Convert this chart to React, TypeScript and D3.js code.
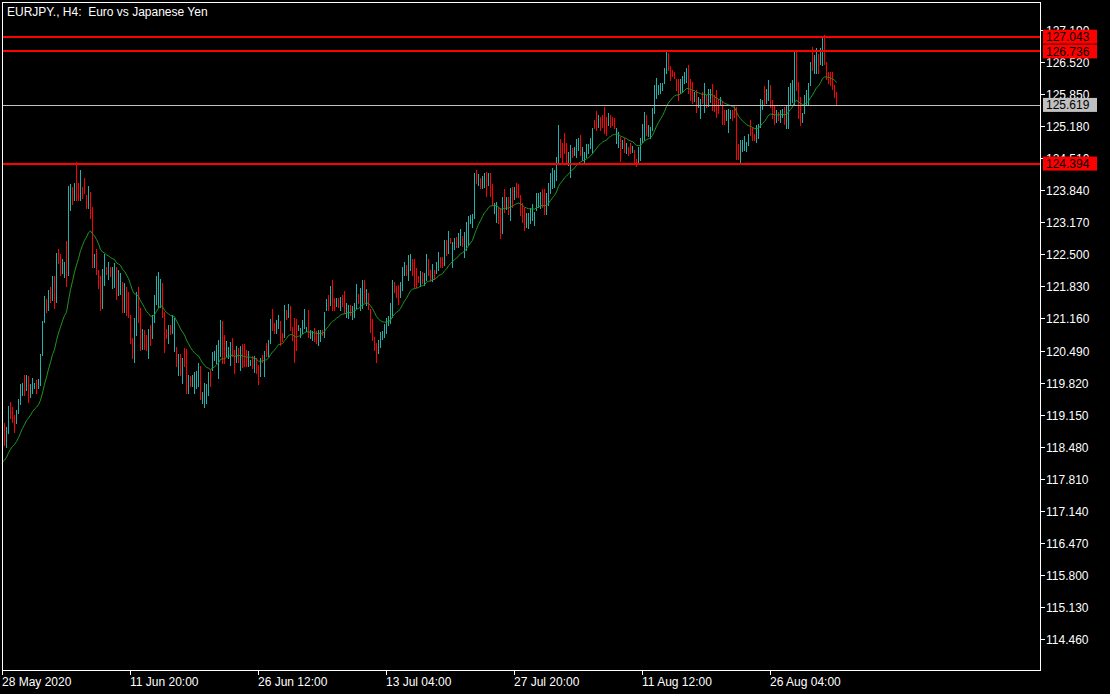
import React from "react";
import * as d3 from "d3";

// EURJPY H4 candles (index 0 = 28 May 2020 00:00)
const highs = [
  118.80, 118.98, 118.90, 119.34, 119.41, 119.32, 119.14, 119.24, 119.48, 119.80,
  119.82, 119.98, 119.98, 119.96, 119.80, 119.91, 119.82, 119.87, 119.89, 120.41,
  121.10, 121.63, 121.56, 121.75, 121.82, 122.04, 122.05, 122.52, 122.62, 122.50,
  122.41, 122.33, 122.77, 123.93, 123.96, 123.91, 123.98, 124.42, 123.98, 124.26,
  123.91, 124.10, 123.73, 123.92, 123.80, 123.49, 122.50, 122.60, 122.17, 122.05,
  122.20, 122.50, 122.24, 122.34, 122.24, 122.24, 122.31, 122.24, 122.18, 122.10,
  121.93, 121.90, 121.82, 121.72, 121.23, 120.76, 121.16, 121.72, 121.82, 121.37,
  120.95, 120.92, 120.81, 120.95, 121.02, 121.23, 121.65, 122.05, 122.13, 121.98,
  121.89, 121.30, 120.95, 121.03, 121.03, 121.24, 121.17, 120.56, 120.42, 120.42,
  120.34, 120.55, 120.53, 119.97, 119.95, 119.97, 120.05, 120.07, 120.23, 120.17,
  119.63, 119.81, 119.79, 120.05, 120.09, 120.45, 120.47, 120.61, 120.71, 121.12,
  121.10, 120.82, 120.68, 120.57, 120.66, 120.75, 120.50, 120.59, 120.54, 120.59,
  120.63, 120.63, 120.50, 120.49, 120.30, 120.37, 120.37, 120.33, 120.19, 120.33,
  120.40, 120.47, 120.64, 120.71, 121.14, 121.35, 121.06, 121.13, 121.24, 121.10,
  120.85, 121.44, 121.34, 121.46, 121.41, 120.99, 121.17, 121.15, 121.03, 120.96,
  121.13, 121.35, 120.98, 121.34, 120.92, 120.89, 120.96, 120.89, 120.92, 120.92,
  120.92, 121.30, 121.56, 121.65, 121.83, 121.97, 121.58, 121.58, 121.58, 121.61,
  121.65, 121.73, 121.48, 121.44, 121.44, 121.41, 121.48, 121.88, 121.68, 121.79,
  121.96, 121.96, 121.77, 121.70, 121.36, 121.14, 120.78, 120.64, 120.71, 120.88,
  120.90, 121.04, 121.16, 121.21, 121.48, 121.96, 121.93, 121.84, 121.86, 121.93,
  122.24, 122.33, 122.28, 122.48, 122.50, 122.40, 122.40, 122.21, 122.05, 122.15,
  122.14, 122.10, 122.50, 122.41, 122.17, 122.30, 122.17, 122.33, 122.55, 122.45,
  122.45, 122.80, 122.80, 122.99, 122.85, 122.76, 122.85, 122.87, 122.95, 123.03,
  122.88, 122.97, 123.18, 123.30, 123.33, 123.35, 124.19, 124.26, 124.18, 124.09,
  124.13, 124.20, 124.22, 124.19, 124.20, 123.97, 123.58, 123.60, 123.49, 123.46,
  123.69, 123.86, 123.69, 123.70, 123.88, 123.91, 123.91, 123.98, 123.97, 123.74,
  123.58, 123.46, 123.36, 123.36, 123.46, 123.56, 123.39, 123.77, 123.79, 123.81,
  123.86, 123.86, 123.77, 123.98, 124.19, 124.31, 124.26, 124.54, 125.20, 124.91,
  124.82, 125.04, 124.82, 124.64, 124.78, 124.71, 124.75, 124.90, 124.92, 124.99,
  124.75, 124.63, 124.80, 124.80, 124.92, 125.13, 125.30, 125.50, 125.41, 125.37,
  125.41, 125.57, 125.37, 125.44, 125.41, 125.37, 125.34, 125.13, 125.06, 124.94,
  124.89, 124.92, 124.82, 124.73, 124.82, 124.76, 124.68, 124.50, 124.75, 124.92,
  125.23, 125.48, 125.41, 125.20, 125.15, 125.55, 126.03, 126.19, 126.03, 126.07,
  126.08, 126.38, 126.74, 126.70, 126.43, 126.35, 126.31, 126.15, 126.15, 126.15,
  126.22, 126.31, 126.40, 126.45, 126.17, 126.10, 125.89, 125.93, 125.79, 125.75,
  125.89, 126.07, 125.82, 125.96, 125.96, 126.05, 125.82, 125.94, 125.75, 125.79,
  125.70, 125.51, 125.51, 125.54, 125.51, 125.52, 125.61, 125.58, 124.81, 124.88,
  124.88, 124.97, 124.85, 125.02, 125.30, 125.16, 125.02, 125.20, 125.23, 125.75,
  125.72, 126.01, 125.96, 126.14, 126.03, 125.72, 125.59, 125.51, 125.47, 125.51,
  125.54, 125.58, 125.61, 126.00, 126.08, 126.14, 126.76, 126.76, 126.10, 125.79,
  125.44, 125.82, 125.93, 126.07, 126.52, 126.83, 126.66, 126.80, 126.69, 126.80,
  127.01, 127.07, 126.52, 126.31, 126.31, 126.31, 126.03, 125.89,
];

const lows = [
  118.40, 118.52, 118.48, 118.76, 119.09, 119.00, 118.79, 118.97, 119.18, 119.38,
  119.56, 119.56, 119.66, 119.42, 119.52, 119.61, 119.70, 119.61, 119.70, 119.77,
  120.39, 121.09, 121.30, 121.33, 121.51, 121.54, 121.37, 121.51, 122.31, 122.06,
  122.10, 122.03, 121.84, 122.06, 123.42, 123.56, 123.63, 123.63, 123.63, 123.63,
  123.67, 123.77, 123.46, 123.46, 123.25, 122.24, 122.24, 122.09, 121.79, 121.33,
  121.37, 121.86, 122.08, 121.99, 122.05, 121.79, 121.82, 121.56, 121.66, 121.68,
  121.30, 121.30, 121.23, 121.19, 120.64, 120.33, 120.26, 120.81, 121.09, 120.50,
  120.53, 120.53, 120.50, 120.33, 120.60, 120.76, 121.09, 121.47, 121.40, 121.40,
  121.19, 120.46, 120.76, 120.64, 120.84, 120.85, 120.48, 120.16, 119.98, 119.98,
  119.82, 120.16, 119.60, 119.60, 119.74, 119.75, 119.60, 119.70, 119.74, 119.48,
  119.39, 119.32, 119.39, 119.56, 119.75, 120.09, 120.30, 120.23, 119.91, 120.37,
  120.24, 120.23, 120.37, 120.33, 120.19, 120.37, 120.03, 120.26, 120.26, 120.09,
  120.14, 120.16, 120.16, 120.16, 120.19, 120.12, 120.05, 120.02, 119.79, 119.95,
  120.26, 119.96, 120.37, 120.37, 120.64, 120.92, 120.85, 120.85, 120.96, 120.61,
  120.68, 120.78, 121.14, 121.20, 120.92, 120.71, 120.26, 120.50, 120.92, 120.77,
  120.85, 120.96, 120.89, 120.78, 120.75, 120.71, 120.68, 120.64, 120.61, 120.68,
  120.82, 120.78, 121.33, 121.34, 121.44, 121.34, 121.33, 121.41, 121.40, 121.34,
  121.41, 121.27, 121.18, 121.16, 121.23, 121.14, 121.20, 121.37, 121.48, 121.34,
  121.37, 121.51, 121.44, 121.35, 120.88, 120.71, 120.50, 120.26, 120.43, 120.57,
  120.74, 120.78, 120.85, 121.02, 121.06, 121.20, 121.72, 121.61, 121.46, 121.61,
  121.75, 122.07, 122.07, 121.96, 122.17, 122.07, 121.82, 121.82, 121.93, 121.84,
  121.89, 121.86, 121.96, 122.07, 121.96, 121.94, 121.98, 122.10, 122.17, 122.24,
  122.24, 122.28, 122.48, 122.52, 122.73, 122.24, 122.60, 122.66, 122.66, 122.69,
  122.67, 122.45, 122.59, 122.69, 123.15, 123.08, 123.26, 123.98, 123.95, 123.88,
  123.89, 123.91, 123.72, 123.95, 123.72, 123.53, 123.37, 123.18, 123.15, 122.83,
  122.95, 123.39, 123.44, 123.35, 123.22, 123.49, 123.65, 123.69, 123.70, 123.32,
  123.18, 123.01, 123.08, 123.04, 123.15, 123.22, 123.11, 123.42, 123.49, 123.46,
  123.49, 123.35, 123.35, 123.53, 123.77, 123.88, 123.91, 124.05, 124.43, 124.54,
  124.43, 124.61, 124.40, 124.36, 124.12, 124.54, 124.57, 124.54, 124.68, 124.57,
  124.47, 124.41, 124.54, 124.61, 124.71, 124.61, 125.13, 125.10, 125.16, 125.10,
  125.16, 125.03, 124.99, 125.20, 125.16, 125.20, 125.13, 124.82, 124.75, 124.45,
  124.71, 124.64, 124.61, 124.57, 124.61, 124.64, 124.40, 124.34, 124.43, 124.47,
  124.85, 124.89, 124.99, 124.96, 124.92, 125.10, 125.44, 125.76, 125.85, 125.86,
  125.92, 126.07, 126.28, 126.35, 126.14, 126.22, 126.19, 125.93, 125.73, 125.87,
  125.89, 126.07, 126.10, 125.86, 125.72, 125.65, 125.70, 125.47, 125.58, 125.34,
  125.65, 125.47, 125.58, 125.59, 125.68, 125.51, 125.50, 125.36, 125.45, 125.61,
  125.23, 125.22, 125.30, 125.06, 125.34, 125.30, 125.36, 124.50, 124.50, 124.43,
  124.66, 124.67, 124.66, 124.78, 124.99, 124.88, 124.88, 124.85, 124.92, 125.16,
  125.54, 125.61, 125.65, 125.72, 125.58, 125.34, 125.23, 125.27, 125.30, 125.27,
  125.37, 125.23, 125.13, 125.13, 125.61, 125.68, 125.61, 125.93, 125.34, 125.20,
  125.27, 125.44, 125.61, 125.61, 126.03, 126.34, 126.28, 126.29, 126.28, 126.48,
  126.45, 126.48, 126.17, 126.07, 126.03, 125.96, 125.79, 125.62,
];

const opens = [
  118.45, 118.90, 118.58, 118.85, 119.30, 119.22, 119.08, 119.00, 119.22, 119.42,
  119.62, 119.88, 119.68, 119.88, 119.56, 119.70, 119.72, 119.80, 119.72, 119.85,
  120.40, 121.10, 121.50, 121.36, 121.72, 121.58, 121.96, 121.55, 122.50, 122.36,
  122.15, 122.10, 122.30, 122.10, 123.55, 123.88, 123.65, 123.95, 123.90, 123.68,
  123.88, 124.05, 123.70, 123.50, 123.78, 123.35, 122.30, 122.50, 122.15, 121.90,
  121.45, 122.00, 122.22, 122.10, 122.22, 121.90, 122.00, 122.20, 121.70, 121.85,
  121.90, 121.40, 121.75, 121.60, 121.20, 120.72, 120.45, 121.00, 121.65, 121.25,
  120.60, 120.85, 120.70, 120.50, 120.95, 120.78, 121.15, 121.55, 121.60, 121.50,
  121.85, 121.25, 120.92, 120.75, 121.00, 120.88, 120.60, 120.52, 120.05, 120.35,
  119.90, 120.45, 120.40, 119.65, 119.90, 119.78, 119.70, 119.75, 119.80, 120.10,
  119.45, 119.40, 119.50, 119.62, 120.02, 120.10, 120.35, 120.30, 120.10, 120.50,
  121.00, 120.75, 120.40, 120.38, 120.30, 120.70, 120.45, 120.30, 120.50, 120.20,
  120.55, 120.55, 120.45, 120.22, 120.22, 120.32, 120.15, 120.30, 120.10, 119.98,
  120.38, 120.05, 120.58, 120.42, 120.68, 121.25, 121.02, 120.90, 121.00, 121.05,
  120.82, 120.80, 121.30, 121.22, 121.38, 120.95, 120.90, 121.05, 120.93, 120.80,
  120.88, 121.00, 120.90, 121.20, 120.78, 120.75, 120.90, 120.85, 120.68, 120.72,
  120.90, 120.84, 121.35, 121.55, 121.45, 121.85, 121.52, 121.42, 121.55, 121.40,
  121.60, 121.65, 121.25, 121.20, 121.40, 121.20, 121.30, 121.45, 121.65, 121.45,
  121.60, 121.90, 121.50, 121.68, 121.35, 121.00, 120.76, 120.58, 120.45, 120.60,
  120.78, 120.82, 120.95, 121.05, 121.15, 121.40, 121.90, 121.78, 121.70, 121.62,
  121.85, 122.10, 122.26, 122.05, 122.30, 122.38, 122.20, 122.10, 122.02, 121.90,
  122.10, 121.92, 122.05, 122.38, 122.15, 122.00, 122.15, 122.12, 122.25, 122.42,
  122.40, 122.30, 122.75, 122.55, 122.82, 122.40, 122.65, 122.82, 122.70, 122.80,
  122.85, 122.60, 122.80, 122.95, 123.18, 123.15, 123.30, 124.18, 124.00, 124.05,
  123.92, 124.00, 124.15, 123.98, 124.12, 123.85, 123.40, 123.30, 123.45, 123.30,
  123.00, 123.75, 123.48, 123.62, 123.40, 123.85, 123.68, 123.92, 123.85, 123.70,
  123.45, 123.35, 123.12, 123.10, 123.20, 123.30, 123.15, 123.45, 123.55, 123.55,
  123.80, 123.75, 123.45, 123.65, 123.90, 124.00, 124.05, 124.15, 124.48, 124.88,
  124.70, 124.95, 124.75, 124.45, 124.40, 124.68, 124.60, 124.65, 124.75, 124.90,
  124.55, 124.45, 124.58, 124.65, 124.75, 124.85, 125.25, 125.40, 125.20, 125.32,
  125.35, 125.40, 125.25, 125.22, 125.38, 125.32, 125.30, 124.90, 124.80, 124.90,
  124.75, 124.88, 124.65, 124.70, 124.75, 124.66, 124.65, 124.48, 124.45, 124.60,
  124.90, 125.10, 125.38, 125.00, 124.98, 125.12, 125.50, 125.85, 125.88, 125.90,
  125.95, 126.08, 126.32, 126.62, 126.40, 126.32, 126.28, 126.12, 126.05, 125.90,
  126.00, 126.10, 126.20, 126.35, 126.00, 125.95, 125.74, 125.85, 125.60, 125.50,
  125.85, 125.65, 125.80, 125.62, 125.75, 125.95, 125.75, 125.80, 125.70, 125.62,
  125.65, 125.45, 125.32, 125.15, 125.38, 125.48, 125.55, 125.45, 124.75, 124.50,
  124.70, 124.72, 124.70, 124.80, 125.25, 125.10, 125.00, 124.90, 125.00, 125.20,
  125.58, 125.90, 125.70, 125.85, 126.00, 125.65, 125.50, 125.30, 125.45, 125.32,
  125.40, 125.52, 125.25, 125.50, 125.80, 125.90, 126.00, 126.65, 126.05, 125.60,
  125.30, 125.45, 125.70, 125.85, 126.05, 126.60, 126.38, 126.50, 126.65, 126.50,
  126.60, 126.95, 126.50, 126.25, 126.22, 126.20, 126.00, 125.85,
];

const closes = [
  118.72, 118.60, 118.82, 119.25, 119.15, 119.05, 118.88, 119.20, 119.42, 119.72,
  119.78, 119.64, 119.90, 119.55, 119.74, 119.85, 119.80, 119.68, 119.85, 120.36,
  121.02, 121.52, 121.35, 121.70, 121.56, 121.98, 121.50, 122.48, 122.35, 122.15,
  122.35, 122.28, 121.95, 123.85, 123.90, 123.62, 123.92, 123.70, 123.68, 124.15,
  123.72, 123.80, 123.50, 123.85, 123.32, 122.35, 122.45, 122.15, 121.85, 121.45,
  122.05, 122.35, 122.12, 122.25, 122.10, 122.18, 122.25, 121.65, 122.05, 122.02,
  121.40, 121.75, 121.35, 121.25, 120.75, 120.45, 121.05, 121.60, 121.20, 120.65,
  120.85, 120.62, 120.55, 120.88, 120.68, 121.15, 121.58, 121.95, 122.02, 121.90,
  121.30, 120.60, 120.80, 120.98, 120.88, 121.15, 121.05, 120.25, 120.35, 120.05,
  120.28, 120.22, 119.70, 119.90, 119.78, 119.92, 119.98, 120.00, 120.18, 119.55,
  119.58, 119.72, 119.70, 119.98, 119.80, 120.40, 120.44, 120.55, 120.65, 121.00,
  120.40, 120.35, 120.62, 120.52, 120.60, 120.42, 120.15, 120.55, 120.32, 120.52,
  120.25, 120.25, 120.22, 120.40, 120.28, 120.18, 120.32, 120.08, 119.88, 120.28,
  120.30, 120.42, 120.42, 120.66, 121.05, 121.00, 120.90, 121.08, 121.18, 120.70,
  120.72, 121.30, 121.18, 121.40, 121.00, 120.78, 120.45, 120.60, 121.00, 120.92,
  121.08, 121.28, 120.96, 120.85, 120.88, 120.85, 120.72, 120.70, 120.88, 120.88,
  120.84, 121.25, 121.50, 121.40, 121.75, 121.45, 121.38, 121.55, 121.45, 121.58,
  121.45, 121.32, 121.42, 121.38, 121.28, 121.36, 121.45, 121.80, 121.52, 121.72,
  121.90, 121.58, 121.70, 121.40, 120.95, 120.78, 120.55, 120.35, 120.65, 120.82,
  120.86, 121.00, 121.10, 121.18, 121.42, 121.90, 121.75, 121.65, 121.55, 121.88,
  122.18, 122.28, 122.12, 122.40, 122.45, 122.12, 121.90, 121.88, 121.95, 122.10,
  121.92, 122.05, 122.42, 122.12, 122.00, 122.25, 122.02, 122.28, 122.50, 122.28,
  122.30, 122.72, 122.55, 122.90, 122.76, 122.70, 122.80, 122.70, 122.90, 122.98,
  122.72, 122.90, 123.10, 123.25, 123.30, 123.30, 124.10, 124.02, 124.12, 123.92,
  124.08, 124.15, 123.80, 124.12, 123.80, 123.58, 123.55, 123.52, 123.20, 122.95,
  123.60, 123.45, 123.62, 123.42, 123.80, 123.55, 123.85, 123.75, 123.72, 123.40,
  123.25, 123.10, 123.30, 123.30, 123.40, 123.50, 123.35, 123.70, 123.72, 123.75,
  123.55, 123.45, 123.70, 123.92, 124.12, 124.25, 124.20, 124.48, 125.05, 124.60,
  124.50, 124.70, 124.48, 124.60, 124.70, 124.58, 124.70, 124.85, 124.88, 124.62,
  124.70, 124.60, 124.75, 124.76, 124.88, 125.10, 125.16, 125.18, 125.35, 125.15,
  125.20, 125.10, 125.05, 125.40, 125.22, 125.24, 125.15, 125.08, 125.00, 124.55,
  124.85, 124.70, 124.78, 124.62, 124.66, 124.72, 124.45, 124.40, 124.70, 124.88,
  125.18, 125.40, 125.05, 125.15, 125.10, 125.48, 125.95, 126.10, 125.98, 126.02,
  126.05, 126.32, 126.60, 126.40, 126.20, 126.25, 126.22, 125.98, 125.80, 126.10,
  126.18, 126.28, 126.35, 125.95, 125.80, 125.75, 125.85, 125.55, 125.75, 125.70,
  125.68, 125.95, 125.62, 125.90, 125.92, 125.60, 125.55, 125.45, 125.50, 125.75,
  125.30, 125.28, 125.45, 125.48, 125.48, 125.35, 125.40, 124.60, 124.55, 124.80,
  124.85, 124.90, 124.82, 124.98, 125.05, 124.92, 124.90, 125.15, 125.18, 125.68,
  125.68, 125.68, 125.90, 126.05, 125.65, 125.40, 125.30, 125.45, 125.35, 125.48,
  125.50, 125.30, 125.55, 125.92, 126.00, 126.08, 126.65, 126.05, 125.45, 125.30,
  125.40, 125.75, 125.88, 126.00, 126.45, 126.40, 126.60, 126.72, 126.35, 126.75,
  126.95, 126.55, 126.22, 126.10, 126.08, 126.00, 125.85, 125.619,
];

// EMA(20) value just before the first visible bar
const maSeed = 118.1;
const maPeriod = 20;

const priceTicks = [
  127.19, 126.52, 125.85, 125.18, 124.51, 123.84, 123.17, 122.5, 121.83, 121.16,
  120.49, 119.82, 119.15, 118.48, 117.81, 117.14, 116.47, 115.8, 115.13, 114.46,
];
const timeTickIndex = [0, 64, 128, 192, 256, 320, 384];
const timeTickLabels = [
  "28 May 2020", "11 Jun 20:00", "26 Jun 12:00", "13 Jul 04:00",
  "27 Jul 20:00", "11 Aug 12:00", "26 Aug 04:00",
];
const redLevels = [127.043, 126.736, 124.394];
const bidLevel = 125.619;

const W = 1110;
const H = 694;
const left = 2, top = 2, right = 1040, bottom = 670;
const FONT = "'Liberation Sans', Arial, sans-serif";
const BULL = "#20B2AA";
const BEAR = "#FF0000";

export default function App() {
  const y = d3.scaleLinear().domain([113.819, 127.768]).range([bottom, top]);
  const x = d3.scaleLinear().domain([0, 1]).range([left, left + 2]);
  const fmt = d3.format(".3f");

  // exponential moving average of closes
  const k = 2 / (maPeriod + 1);
  const ema: number[] = [];
  let prev = maSeed;
  closes.forEach((c) => {
    prev = prev + k * (c - prev);
    ema.push(prev);
  });
  const maLine = d3
    .line<number>()
    .x((_, i) => x(i) + 0.5)
    .y((v) => y(v))(ema);

  return (
    <svg
      width={W}
      height={H}
      style={{ position: "absolute", left: 0, top: 0, display: "block", background: "#000" }}
    >
      <rect x={0} y={0} width={W} height={H} fill="#000" />

      <defs>
        <clipPath id="plot">
          <rect x={left} y={top} width={right - left} height={bottom - top} />
        </clipPath>
      </defs>

      <g clipPath="url(#plot)" shapeRendering="crispEdges">
        {highs.map((h, i) => {
          const y1 = Math.round(y(h));
          const y2 = Math.round(y(lows[i]));
          return (
            <rect
              key={i}
              x={x(i)}
              y={y1}
              width={1}
              height={Math.max(1, y2 - y1 + 1)}
              fill={closes[i] >= opens[i] ? BULL : BEAR}
            />
          );
        })}
      </g>

      <path d={maLine ?? ""} fill="none" stroke="#1E961E" strokeWidth={1} clipPath="url(#plot)" />

      {/* horizontal level lines */}
      <g shapeRendering="crispEdges">
        {redLevels.map((lv) => (
          <line key={lv} x1={left} x2={right} y1={y(lv)} y2={y(lv)} stroke="#FF0000" strokeWidth={2} />
        ))}
        <line x1={left} x2={right} y1={Math.round(y(bidLevel)) + 0.5} y2={Math.round(y(bidLevel)) + 0.5} stroke="#C0C0C0" strokeWidth={1} />
      </g>

      {/* frame */}
      <rect
        x={left + 0.5}
        y={top + 0.5}
        width={right - left}
        height={bottom - top}
        fill="none"
        stroke="#FFFFFF"
        strokeWidth={1}
        shapeRendering="crispEdges"
      />

      <text x={7} y={16} fill="#FFFFFF" fontFamily={FONT} fontSize={12}>
        EURJPY., H4:{"\u00a0\u00a0"}Euro vs Japanese Yen
      </text>

      {/* price axis */}
      <g fontFamily={FONT} fontSize={12} fill="#FFFFFF">
        {priceTicks.map((t) => {
          const ty = Math.round(y(t)) + 0.5;
          return (
            <g key={t}>
              <line x1={right} x2={right + 5} y1={ty} y2={ty} stroke="#FFFFFF" shapeRendering="crispEdges" />
              <text x={right + 6} y={ty + 4}>{fmt(t)}</text>
            </g>
          );
        })}
      </g>

      {/* level price boxes */}
      <g fontFamily={FONT} fontSize={12}>
        {redLevels.map((lv) => (
          <g key={lv}>
            <rect x={right + 3} y={y(lv) - 7} width={54} height={14} fill="#FF0000" />
            <text x={right + 6} y={y(lv) + 4.5} fill="#000000">{fmt(lv)}</text>
          </g>
        ))}
        <rect x={right + 3} y={y(bidLevel) - 7} width={54} height={14} fill="#C0C0C0" />
        <text x={right + 6} y={y(bidLevel) + 4.5} fill="#000000">{fmt(bidLevel)}</text>
      </g>

      {/* time axis */}
      <g fontFamily={FONT} fontSize={12} fill="#FFFFFF">
        {timeTickIndex.map((ti, j) => {
          const tx = Math.round(x(ti)) + 0.5;
          return (
            <g key={ti}>
              <line x1={tx} x2={tx} y1={bottom} y2={bottom + 5} stroke="#FFFFFF" shapeRendering="crispEdges" />
              <text x={tx - 0.5} y={bottom + 16}>{timeTickLabels[j]}</text>
            </g>
          );
        })}
      </g>
    </svg>
  );
}
